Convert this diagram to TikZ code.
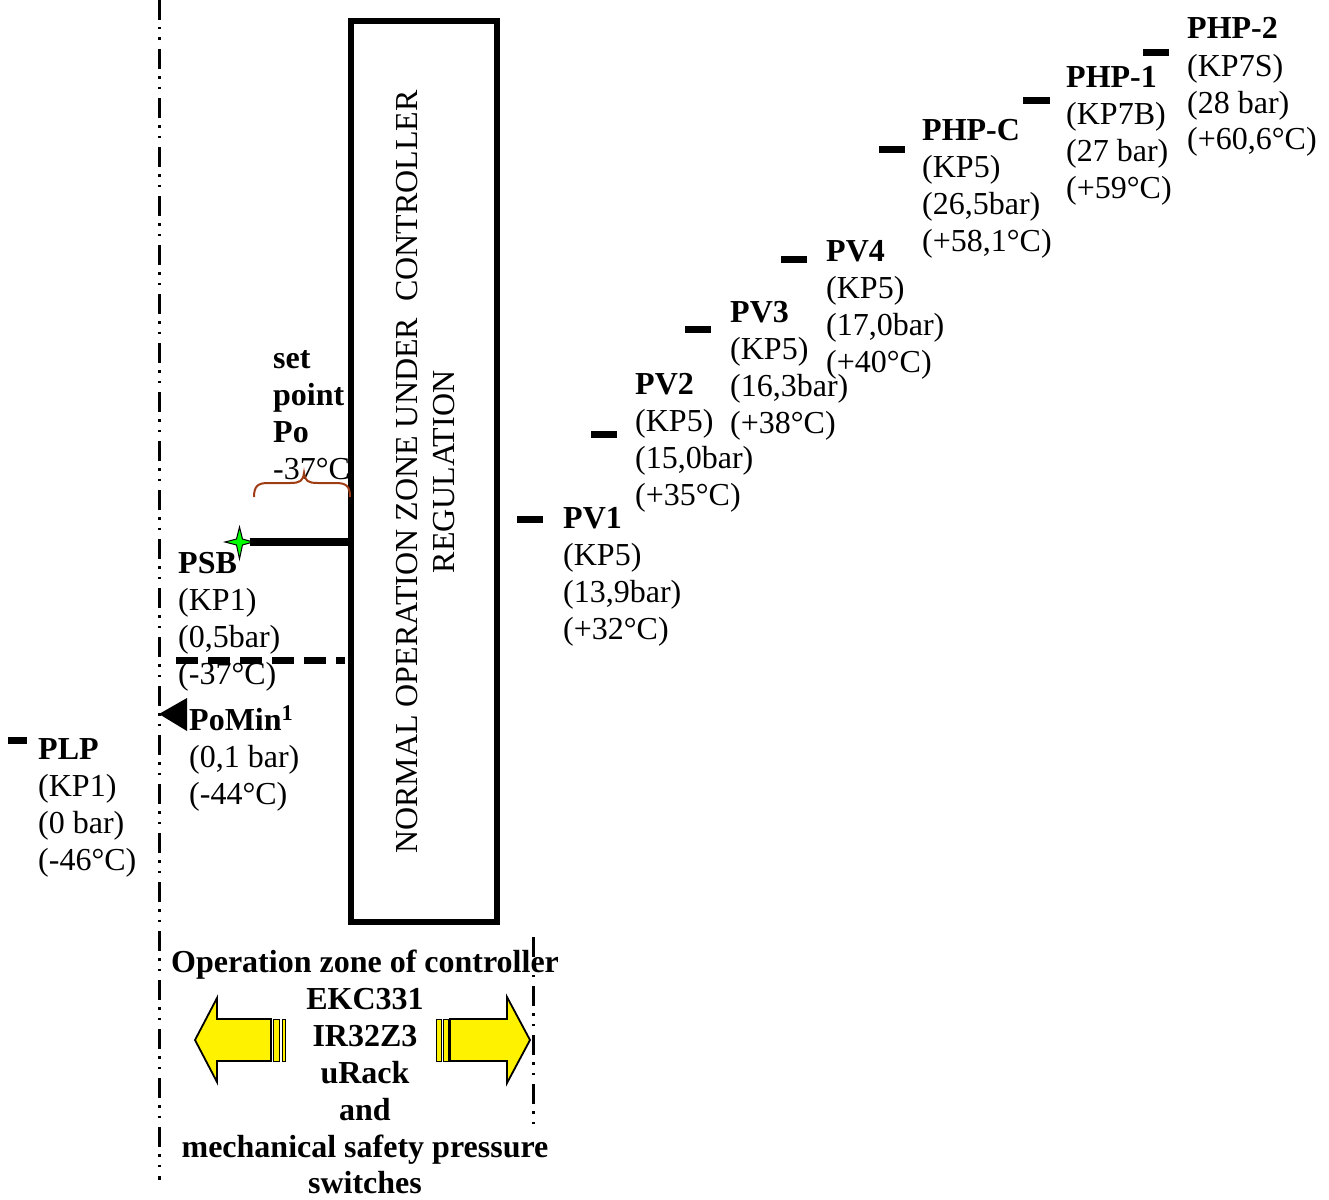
\documentclass[tikz,border=0pt]{standalone}
\usepackage{fontspec}
\setmainfont{Liberation Serif}
\newcommand\stk[1]{\begin{tabular}[t]{@{}l@{}}#1\end{tabular}}
\newcommand\ctk[1]{\begin{tabular}[t]{@{}c@{}}#1\end{tabular}}
\tikzset{
  lab/.style={anchor=base west, inner sep=0pt, font=\fontsize{32}{37}\selectfont},
  clab/.style={anchor=base, inner sep=0pt, font=\fontsize{32}{37}\selectfont\bfseries},
  pbar/.style={line width=7pt},
  dashdot/.style={line width=3pt, dash pattern=on 20pt off 7pt on 2.5pt off 8pt on 2.5pt off 9pt},
  yarrow/.style={fill=yellow, draw=black, line width=1.8pt, line join=miter},
  ystripe/.style={fill=yellow, draw=black, line width=0.8pt},
  bracecol/.style={draw={rgb,255:red,160;green,60;blue,20}, line width=2pt},
}
\begin{document}
\begin{tikzpicture}[x=1pt, y=-1pt]
\useasboundingbox (0,0) rectangle (1329,1199);

% dash-dot zone lines
\coordinate (lt) at (159,0);
\coordinate (lb) at (159,1180);
\draw[dashdot] (lt) -- (lb);
\coordinate (rt) at (533,937);
\coordinate (rb) at (533,1125);
\draw[dashdot] (rt) -- (rb);

% controller box
\node[draw, line width=6pt, minimum width=146pt, minimum height=901pt, inner sep=0pt] (box) at (424,471.5) {};
\node[rotate=90, anchor=base, inner sep=0pt, font=\fontsize{32}{37}\selectfont] (boxtxt) at (417,472)
  {\ctk{NORMAL OPERATION ZONE UNDER~~CONTROLLER\\REGULATION}};

% set point and brace
\node[lab] (sp) at (273,368) {\stk{\textbf{set}\\\textbf{point}\\\textbf{Po}\\-37°C}};
\draw[bracecol] (254,497) .. controls (254,486) and (258,483) .. (268,483) -- (290,483)
  .. controls (300,483) and (303,481) .. (304,473)
  .. controls (305,481) and (308,483) .. (318,483) -- (336,483)
  .. controls (346,483) and (350,486) .. (350,497);

% PSB
\coordinate (star) at (239.5,542);
\draw[line width=8pt] (star) ++(10,0) -- (box.west |- star);
\draw[fill={rgb,255:red,0;green,255;blue,0}, draw=black, line width=1pt]
  (239.5,527) -- (242.5,539) -- (253,542) -- (242.5,545) -- (239.5,559)
  -- (236.5,545) -- (225,542) -- (236.5,539) -- cycle;
\node[lab] (psb) at (178,573) {\stk{\textbf{PSB}\\(KP1)\\(0,5bar)\\(-37°C)}};
\coordinate (dl) at (176,660);
\draw[line width=7pt, dash pattern=on 22pt off 10pt] (dl) -- (345,660);

% PoMin
\node[lab] (pomin) at (189,730) {\stk{\textbf{PoMin\textsuperscript{1}}\\(0,1 bar)\\(-44°C)}};
\fill (159,714) -- (187,698) -- (187,731) -- cycle;

% PLP
\draw[pbar] (8,740.5) -- (27,740.5);
\node[lab] (plp) at (38,759) {\stk{\textbf{PLP}\\(KP1)\\(0 bar)\\(-46°C)}};

% PV / PHP
\draw[pbar] (517,519) -- (543,519);
\node[lab] (pv1) at (563,528) {\stk{\textbf{PV1}\\(KP5)\\(13,9bar)\\(+32°C)}};
\draw[pbar] (591,434) -- (617,434);
\node[lab] (pv2) at (635,394) {\stk{\textbf{PV2}\\(KP5)\\(15,0bar)\\(+35°C)}};
\draw[pbar] (685,329) -- (711,329);
\node[lab] (pv3) at (730,322) {\stk{\textbf{PV3}\\(KP5)\\(16,3bar)\\(+38°C)}};
\draw[pbar] (781,259) -- (807,259);
\node[lab] (pv4) at (826,261) {\stk{\textbf{PV4}\\(KP5)\\(17,0bar)\\(+40°C)}};
\draw[pbar] (879,149) -- (905,149);
\node[lab] (phpc) at (922,140) {\stk{\textbf{PHP-C}\\(KP5)\\(26,5bar)\\(+58,1°C)}};
\draw[pbar] (1023,100.5) -- (1050,100.5);
\node[lab] (php1) at (1066,87) {\stk{\textbf{PHP-1}\\(KP7B)\\(27 bar)\\(+59°C)}};
\draw[pbar] (1143,53) -- (1169,53);
\node[lab] (php2) at (1187,39) {\stk{\textbf{PHP-2}\\(KP7S)\\(28 bar)\\(+60,6°C)}};

% bottom text
\node[clab] (zone) at (365,972) {\ctk{Operation zone of controller\\EKC331\\IR32Z3\\uRack\\and\\mechanical safety pressure}};
\node[clab] (zone2) at (365,1193) {switches};

% yellow arrows
\draw[yarrow] (195,1040) -- (217,998) -- (217,1019) -- (271,1019) -- (271,1061) -- (217,1061) -- (217,1082) -- cycle;
\draw[ystripe] (273,1019) rectangle (279,1061);
\draw[ystripe] (282,1019) rectangle (285,1061);
\draw[yarrow] (530,1040) -- (507,997) -- (507,1019) -- (450,1019) -- (450,1061) -- (507,1061) -- (507,1083) -- cycle;
\draw[ystripe] (436,1019) rectangle (441,1061);
\draw[ystripe] (443,1019) rectangle (448,1061);
\end{tikzpicture}
\end{document}
